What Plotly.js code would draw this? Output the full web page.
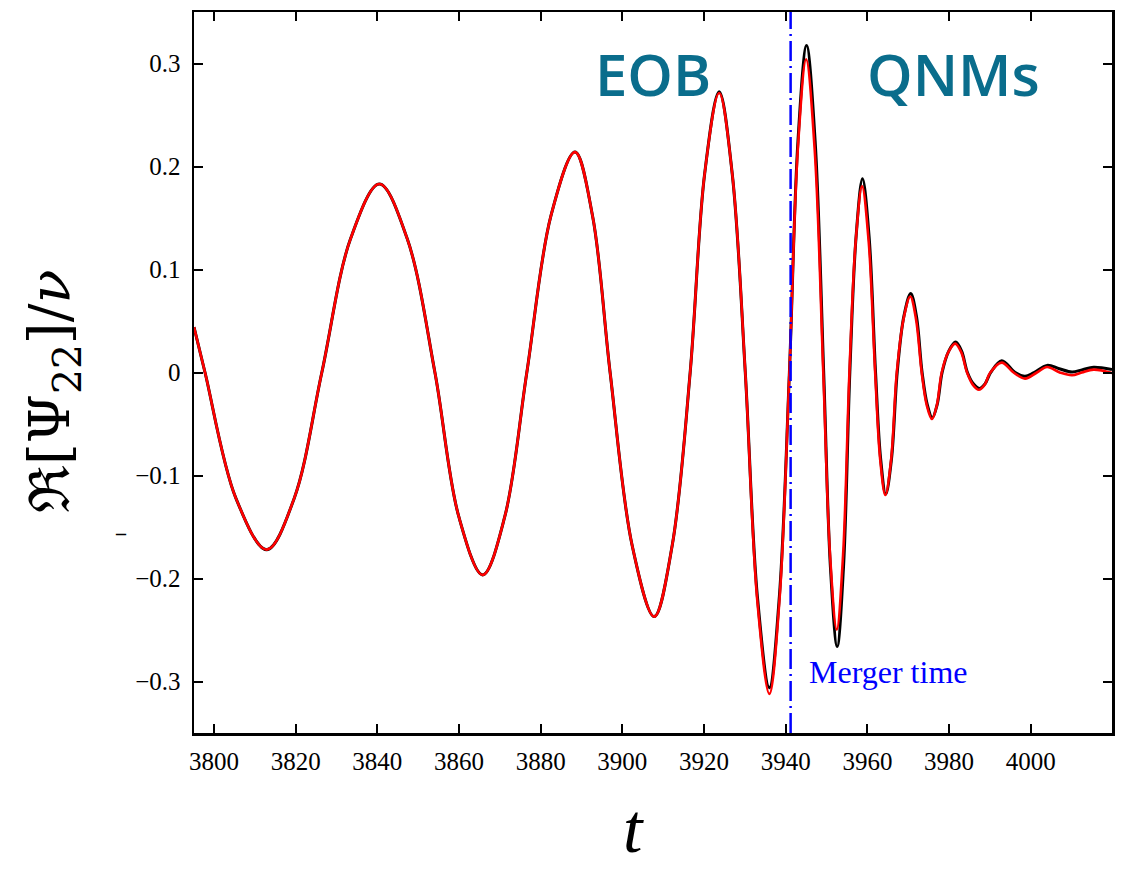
<!DOCTYPE html>
<html>
<head>
<meta charset="utf-8">
<script src="https://cdn.plot.ly/plotly-3.0.1.min.js"></script>
<style>
  html, body { margin: 0; padding: 0; background: #ffffff; }
  #chart { width: 1123px; height: 874px; }
  /* serif tick labels */
  #chart .xtick text, #chart .ytick text { font-family: 'Liberation Serif', 'DejaVu Serif', serif !important; }
  #chart .annotation-text.math { font-family: 'DejaVu Serif', 'Liberation Serif', serif !important; }
</style>
</head>
<body>
<div id="chart"></div>
<script>
// EOB waveform (red): Re[Psi_22]/nu versus t
const tEOB = [3795.1, 3797.8, 3805.35, 3812.9, 3819.65, 3826.4, 3833.45, 3840.5, 3847.3, 3854.1,
  3859.95, 3865.8, 3871.2, 3876.6, 3882.5, 3888.4, 3892.7, 3897.0, 3902.4, 3907.8,
  3912.2, 3916.6, 3920.15, 3923.7, 3926.9, 3930.1, 3933.05, 3936.0, 3938.45, 3940.9,
  3942.95, 3945.0, 3947.1, 3949.2, 3950.85, 3952.5, 3954.05, 3955.6, 3957.15, 3958.7,
  3960.3, 3961.9, 3963.15, 3964.4, 3965.8, 3967.2, 3968.85, 3970.5, 3971.9, 3973.3,
  3974.55, 3975.8, 3977.0, 3978.2, 3979.85, 3981.5, 3982.95, 3984.4, 3985.85, 3987.3,
  3988.7, 3990.1, 3992.9, 3995.8, 3998.6, 4001.5, 4004.0, 4007.1, 4010.1, 4012.5,
  4015.4, 4019.9];
const psiEOB = [0.044, 0.0, -0.122, -0.172, -0.122, 0.0, 0.130, 0.183, 0.130, 0.0,
  -0.140, -0.1965, -0.140, 0.0, 0.152, 0.214, 0.152, 0.0, -0.168, -0.237,
  -0.168, 0.0, 0.193, 0.2713, 0.193, 0.0, -0.222, -0.312, -0.222, 0.0,
  0.216, 0.304, 0.216, 0.0, -0.177, -0.2495, -0.177, 0.0, 0.128, 0.1807,
  0.128, 0.0, -0.085, -0.119, -0.085, 0.0, 0.052, 0.0738, 0.052, 0.0,
  -0.032, -0.0452, -0.032, 0.0, 0.020, 0.028, 0.020, 0.0, -0.012, -0.0168,
  -0.012, 0.0, 0.0096, 0.0, -0.0059, 0.0, 0.0053, 0.0, -0.0027, 0.0,
  0.0028, -0.0005];

// Numerical-relativity waveform (black)
const tNR = [3795.1, 3797.8, 3805.35, 3812.9, 3819.65, 3826.4, 3833.45, 3840.5, 3847.3, 3854.1,
  3859.95, 3865.8, 3871.2, 3876.6, 3882.5, 3888.4, 3892.7, 3897.0, 3902.4, 3907.8,
  3912.2, 3916.6, 3920.15, 3923.7, 3926.9, 3930.1, 3933.05, 3936.0, 3938.45, 3940.9,
  3943.0, 3945.1, 3947.2, 3949.3, 3950.95, 3952.6, 3954.15, 3955.7, 3957.25, 3958.8,
  3960.4, 3962.0, 3963.25, 3964.5, 3965.9, 3967.3, 3968.95, 3970.6, 3972.0, 3973.4,
  3974.65, 3975.9, 3977.1, 3978.3, 3979.95, 3981.6, 3983.05, 3984.5, 3985.95, 3987.4,
  3988.8, 3990.2, 3992.9, 3996.2, 3998.6, 4000.8, 4004.0, 4007.0, 4010.1, 4012.7,
  4015.4, 4019.9];
const psiNR = [0.044, 0.0, -0.122, -0.172, -0.122, 0.0, 0.130, 0.183, 0.130, 0.0,
  -0.140, -0.1965, -0.140, 0.0, 0.152, 0.214, 0.152, 0.0, -0.168, -0.237,
  -0.168, 0.0, 0.193, 0.2725, 0.193, 0.0, -0.217, -0.306, -0.217, 0.0,
  0.225, 0.3174, 0.225, 0.0, -0.189, -0.266, -0.189, 0.0, 0.133, 0.188,
  0.133, 0.0, -0.084, -0.118, -0.084, 0.0, 0.055, 0.0768, 0.055, 0.0,
  -0.031, -0.044, -0.031, 0.0, 0.021, 0.0295, 0.021, 0.0, -0.011, -0.0155,
  -0.011, 0.0, 0.0114, 0.0, -0.0037, 0.0, 0.0069, 0.0037, 0.0005, 0.0027,
  0.005, 0.0028];

const mergerTime = 3941.2;
const xTicks = [3800, 3820, 3840, 3860, 3880, 3900, 3920, 3940, 3960, 3980, 4000];
const yTicks = [-0.3, -0.2, -0.1, 0, 0.1, 0.2, 0.3];

const serif = 'Liberation Serif';
const teal = '#0a6d8c';

const traces = [
  { x: tNR, y: psiNR, type: 'scatter', mode: 'lines', name: 'NR',
    line: { color: '#000000', width: 3, shape: 'spline', smoothing: 1 } },
  { x: tEOB, y: psiEOB, type: 'scatter', mode: 'lines', name: 'EOB',
    line: { color: '#ff0000', width: 2.6, shape: 'spline', smoothing: 1 } }
];

function axisStyle() {
  return {
    showgrid: false, zeroline: false, showline: true, linecolor: '#000', linewidth: 2.5,
    mirror: 'ticks', ticks: 'inside', ticklen: 9, tickwidth: 2, tickcolor: '#000',
    tickfont: { family: serif, size: 25, color: '#000' }
  };
}

const layout = {
  width: 1123, height: 874,
  margin: { l: 194, r: 11, t: 12, b: 141 },
  paper_bgcolor: '#ffffff', plot_bgcolor: '#ffffff',
  font: { family: serif, size: 25, color: '#000' },
  showlegend: false,
  xaxis: Object.assign(axisStyle(), {
    range: [3795.1, 4019.9], tickvals: xTicks, ticktext: xTicks.map(String),
    ticklabelstandoff: 4
  }),
  yaxis: Object.assign(axisStyle(), {
    range: [-0.35, 0.35], tickvals: yTicks,
    ticktext: yTicks.map(v => v === 0 ? '0' : (v < 0 ? '\u2212' + Math.abs(v).toFixed(1) : v.toFixed(1))),
    ticklabelstandoff: 6
  }),
  shapes: [
    { type: 'line', xref: 'x', yref: 'paper', x0: mergerTime, x1: mergerTime, y0: 0, y1: 1,
      line: { color: '#0000ff', width: 2.5, dash: '20px,5px,2px,5px' } }
  ],
  annotations: [
    { xref: 'x', yref: 'y', x: 3907.5, y: 0.29, text: 'EOB', showarrow: false,
      xanchor: 'center', yanchor: 'middle',
      font: { family: 'Open Sans', size: 58, color: teal, weight: 600 } },
    { xref: 'x', yref: 'y', x: 3981.0, y: 0.29, text: 'QNMs', showarrow: false,
      xanchor: 'center', yanchor: 'middle',
      font: { family: 'Open Sans', size: 58, color: teal, weight: 600 } },
    { xref: 'x', yref: 'y', x: 3945.2, y: -0.2905, text: 'Merger time', showarrow: false,
      xanchor: 'left', yanchor: 'middle',
      font: { family: serif, size: 32, color: '#0000ff' } },
    { xref: 'paper', yref: 'paper', x: -0.1536, y: 0.4743, textangle: -90,
      text: '\u211C[\u03A8<sub>22</sub>]/<i>\u03BD</i>', showarrow: false,
      xanchor: 'center', yanchor: 'middle',
      font: { family: 'DejaVu Serif', size: 56, color: '#000' } },
    { xref: 'paper', yref: 'paper', x: -0.0795, y: 0.277, text: '\u2013', showarrow: false,
      xanchor: 'center', yanchor: 'middle',
      font: { family: serif, size: 20, color: '#000', weight: 700 } },
    { xref: 'paper', yref: 'paper', x: 0.479, y: -0.133, text: '<i>t</i>', showarrow: false,
      xanchor: 'center', yanchor: 'middle',
      font: { family: serif, size: 70, color: '#000' } }
  ]
};

Plotly.newPlot('chart', traces, layout, { staticPlot: true, displayModeBar: false });
</script>
</body>
</html>
